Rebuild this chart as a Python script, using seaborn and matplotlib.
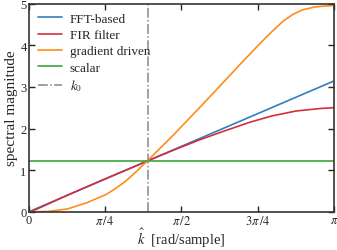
import numpy as np
import pandas as pd
import seaborn as sns
import matplotlib.pyplot as plt

sns.set_theme(style="ticks")
plt.rcParams["font.family"] = ["Liberation Serif", "DejaVu Serif"]
plt.rcParams["mathtext.fontset"] = "stix"

# values
k_fft = [0.0, 0.785, 1.571, 2.356, 3.1416]
mag_fft = [0.0, 0.785, 1.571, 2.356, 3.1416]

k_fir = [0.0, 0.05, 0.4, 0.785, 1.0, 1.22, 1.5, 1.75, 2.0, 2.275, 2.5, 2.75, 3.0, 3.1416]
mag_fir = [0.0, 0.03, 0.40, 0.79, 1.0, 1.22, 1.49, 1.72, 1.93, 2.15, 2.30, 2.42, 2.48, 2.50]

k_grad = [0.0, 0.2, 0.4, 0.6, 0.8, 0.9, 1.0, 1.1, 1.22, 1.35, 1.5, 1.75, 2.0, 2.2, 2.38,
          2.5, 2.62, 2.72, 2.82, 2.95, 3.05, 3.1416]
mag_grad = [0.0, 0.01, 0.07, 0.22, 0.42, 0.57, 0.74, 0.95, 1.22, 1.52, 1.87, 2.48, 3.10,
            3.60, 4.04, 4.32, 4.58, 4.74, 4.85, 4.92, 4.94, 4.95]

k_scalar = [0.0, 3.1416]
mag_scalar = [1.22, 1.22]

k0 = 1.224

fig = plt.figure(figsize=(3.37, 2.51), dpi=100)
ax = fig.add_axes([0.085, 0.152, 0.906, 0.830])

sns.lineplot(x=k_fft, y=mag_fft, ax=ax, color="#2f7fc1", lw=1.2, label="FFT-based")
sns.lineplot(x=k_fir, y=mag_fir, ax=ax, color="#d62f3a", lw=1.2, label="FIR filter")
sns.lineplot(x=k_grad, y=mag_grad, ax=ax, color="#ff8c1a", lw=1.2, label="gradient driven")
sns.lineplot(x=k_scalar, y=mag_scalar, ax=ax, color="#3aa63a", lw=1.2, label="scalar")
ax.axvline(k0, color="#888888", lw=1.1, ls="-.", label="$k_0$")

ax.set_xlim(0, np.pi)
ax.set_ylim(0, 5)
ax.set_xticks([0, np.pi / 4, np.pi / 2, 3 * np.pi / 4, np.pi])
ax.set_xticklabels(["0", r"$\pi\,/4$", r"$\pi\,/2$", r"$3\pi\,/4$", r"$\pi$"])
ax.set_yticks([0, 1, 2, 3, 4, 5])
ax.tick_params(direction="in", top=True, right=True, labelsize=9, length=4, width=1, pad=1.5)
for s in ax.spines.values():
    s.set_linewidth(1.2)
    s.set_color("#333333")

ax.set_xlabel(r"$\hat{k}$  [rad/sample]", fontsize=10.5, va="baseline")
ax.xaxis.set_label_coords(0.5, -0.155)
ax.set_ylabel("spectral magnitude", fontsize=11, labelpad=2)

ax.legend(loc="upper left", frameon=False, fontsize=9.5, handlelength=1.8,
          handletextpad=0.6, borderaxespad=0.5, borderpad=0.2, labelspacing=0.3)

fig.savefig("out.png", dpi=100)
